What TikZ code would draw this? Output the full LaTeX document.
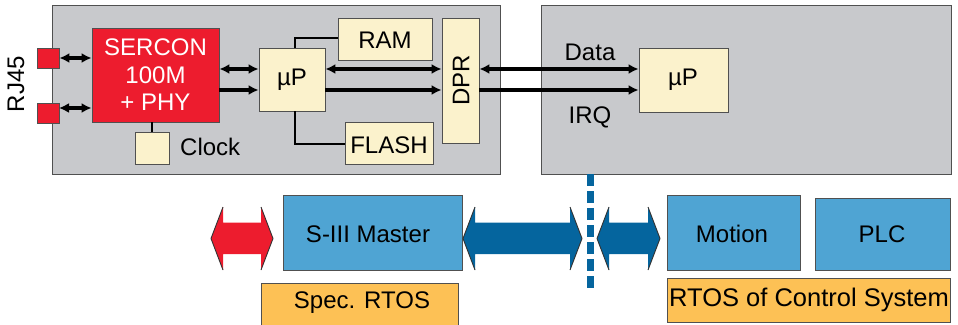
\documentclass[tikz,border=0pt]{standalone}
\usepackage{fontspec}
\setmainfont{Liberation Sans}
\usetikzlibrary{arrows.meta}
\definecolor{boxgray}{HTML}{C8C9CC}
\definecolor{cream}{HTML}{FBF2CC}
\definecolor{sred}{HTML}{ED1C2E}
\definecolor{lblue}{HTML}{4FA4D3}
\definecolor{dblue}{HTML}{05659E}
\definecolor{rtos}{HTML}{FDC155}
\definecolor{edge}{HTML}{505050}
\newcommand\fatarrow[3]{%
  \fill[#3] (#1,238.5) -- (#1+12,207) -- (#1+12,222.5) -- (#2-12,222.5) -- (#2-12,207) -- (#2,238.5) -- (#2-12,270) -- (#2-12,254) -- (#1+12,254) -- (#1+12,270) -- cycle;
  \draw[black!80,line width=0.9] (#1+12,207) -- (#1,238.5) -- (#1+12,270);
  \draw[black!80,line width=0.9] (#2-12,207) -- (#2,238.5) -- (#2-12,270);}
\tikzset{
  panel/.style={draw=edge,line width=1,fill=boxgray},
  chip/.style={draw=edge,line width=0.8,fill=cream},
  txt/.style={font=\fontsize{24}{27.5}\selectfont,inner sep=0pt},
  sw/.style={draw=edge,line width=0.8,fill=lblue},
  os/.style={draw=edge,line width=0.8,fill=rtos},
  bus/.style={line width=3.4,black},
  dbl/.style={bus,{Latex[length=10,width=10]}-{Latex[length=10,width=10]}},
  sgl/.style={bus,-{Latex[length=10,width=10]}},
  thin/.style={line width=1.3,black}
}
\begin{document}
\begin{tikzpicture}[x=1pt,y=-1pt]
\useasboundingbox (0,0) rectangle (958,324);
\begin{scope}
\clip (0,0) rectangle (958,324);
% panels
\draw[panel] (52,5) rectangle (500,174);
\draw[panel] (541,5) rectangle (951,174);
% left side
\node[draw=edge,line width=0.8,fill=sred,minimum width=22,minimum height=20,inner sep=0] (rj1) at (48,58) {};
\node[draw=edge,line width=0.8,fill=sred,minimum width=22,minimum height=20,inner sep=0] (rj2) at (48,113) {};
\node[txt,rotate=90] (rjt) at (16,84) {RJ45};
\node[draw=edge,line width=0.8,fill=sred,minimum width=127,minimum height=94,inner sep=0,
      text=white,align=center,font=\fontsize{24}{27.5}\selectfont] (ser) at (155.5,75) {SERCON\\100M\\+ PHY};
\node[chip,minimum width=34,minimum height=32,inner sep=0] (clk) at (152,148) {};
\node[txt,anchor=west] (clkt) at (180,147) {Clock};
\node[chip,minimum width=66,minimum height=63,inner sep=0] (up1) at (292,79.5) {};
\node[txt] at (292,80) {µP};
\node[chip,minimum width=94,minimum height=42,inner sep=0] (ram) at (385,39) {};
\node[txt] at (385,40) {RAM};
\node[chip,minimum width=88,minimum height=42,inner sep=0] (flash) at (389,143) {};
\node[txt] at (389,145) {FLASH};
\node[chip,minimum width=37,minimum height=125,inner sep=0] (dpr) at (460.5,80.5) {};
\node[txt,rotate=90] at (461,80) {DPR};
\node[chip,minimum width=89,minimum height=64,inner sep=0] (up2) at (683.5,80) {};
\node[txt] at (683,80) {µP};
\node[txt] (data) at (590,52) {Data};
\node[txt] (irq) at (590,117) {IRQ};
% buses
\draw[dbl] (rj1.east) -- (rj1.east -| ser.west);
\draw[dbl] (59,108) -- (ser.west |- 0,108);
\draw[dbl] (ser.east |- 0,69) -- (up1.west |- 0,69);
\draw[sgl] (ser.east |- 0,90) -- (up1.west |- 0,90);
\draw[dbl] (up1.east |- 0,69) -- (dpr.west |- 0,69);
\draw[sgl] (up1.east |- 0,90) -- (dpr.west |- 0,90);
\draw[dbl] (dpr.east |- 0,69) -- (up2.west |- 0,69);
\draw[sgl] (dpr.east |- 0,90) -- (up2.west |- 0,90);
\draw[thin] (up1.north -| 295,0) |- (ram.west |- 0,38);
\draw[thin] (up1.south -| 295,0) |- (flash.west |- 0,144);
\draw[line width=1.2,black] (ser.south -| clk.north) -- (clk.north);
% bottom row
\draw[dblue,line width=7,dash pattern=on 12 off 5] (590.5,174) -- (590.5,288);
\node[sw,minimum width=179,minimum height=75,inner sep=0] (master) at (372.5,232.5) {};
\node[txt] at (368,234) {S-III Master};
\node[sw,minimum width=133,minimum height=75,inner sep=0] (motion) at (733.5,232.5) {};
\node[txt] at (732,234) {Motion};
\node[sw,minimum width=135,minimum height=72,inner sep=0] (plc) at (882.5,234) {};
\node[txt] at (882,234) {PLC};
\node[os,minimum width=197,minimum height=60,inner sep=0] (spec) at (359.5,313) {};
\node[txt] at (362,303) {Spec. RTOS};
\node[os,minimum width=283,minimum height=44,inner sep=0] (ctrl) at (808.5,300) {};
\node[txt,font=\fontsize{25.5}{28}\selectfont] at (809,300) {RTOS of Control System};
\fatarrow{211}{273}{sred}
\fatarrow{463}{582}{dblue}
\fatarrow{597}{660}{dblue}
\end{scope}
\end{tikzpicture}
\end{document}
